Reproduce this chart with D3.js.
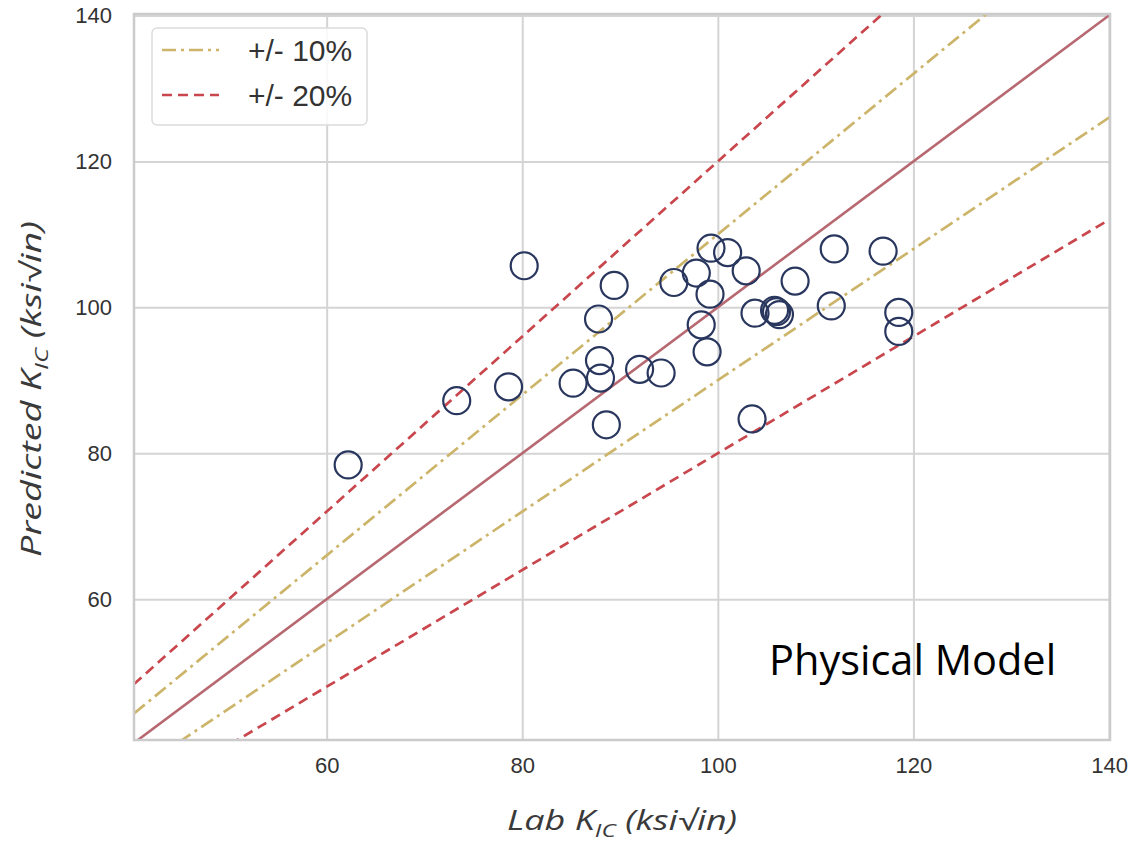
<!DOCTYPE html>
<html>
<head>
<meta charset="utf-8">
<script src="https://cdn.jsdelivr.net/npm/d3@7"></script>
<style>
  body { margin: 0; background: #fff; }
  .tick text { font-family: "Liberation Sans", Arial, sans-serif; fill: #333; }
</style>
</head>
<body>
<div id="chart"></div>
<script>
// Lab vs predicted fracture toughness (ksi*sqrt(in))
const labK = [62.2, 73.3, 78.6, 80.2, 85.2, 87.8, 87.9, 88.0, 88.6, 89.4, 92.0, 94.2, 95.5,
  97.8, 98.3, 98.9, 99.3, 99.2, 101.0, 102.9, 103.8, 103.5, 105.8, 106.0, 106.3, 107.9,
  111.6, 111.9, 116.9, 118.5, 118.5];
const predictedK = [78.4, 87.2, 89.1, 105.7, 89.6, 98.4, 92.7, 90.3, 83.9, 103.0, 91.5, 91.0, 103.4,
  104.7, 97.6, 93.9, 108.1, 101.8, 107.5, 105.0, 99.2, 84.7, 99.6, 99.4, 99.0, 103.6,
  100.2, 108.0, 107.7, 99.3, 96.7];
const xTicks = [60, 80, 100, 120, 140];
const yTicks = [60, 80, 100, 120, 140];
const bandRatios = [1.2, 1.1, 1.0, 0.9, 0.8];
const legendLabels = ['+/- 10%', '+/- 20%'];

const config = {
  width: 1130,
  height: 842,
  plot: { left: 134, right: 1110, top: 14, bottom: 740 },
};

const svg = d3.select('#chart').append('svg')
  .attr('width', config.width)
  .attr('height', config.height);

const x = d3.scaleLinear().domain([40.3, 140.1]).range([config.plot.left, config.plot.right]);
const y = d3.scaleLinear().domain([40.7, 140.2]).range([config.plot.bottom, config.plot.top]);
const plotW = config.plot.right - config.plot.left;
const plotH = config.plot.bottom - config.plot.top;

svg.append('defs').append('clipPath').attr('id', 'plot-clip')
  .append('rect')
  .attr('x', config.plot.left)
  .attr('y', config.plot.top)
  .attr('width', plotW)
  .attr('height', plotH);

// grid via axes
const xAxisG = svg.append('g')
  .attr('transform', `translate(0,${config.plot.bottom})`)
  .call(d3.axisBottom(x).tickValues(xTicks).tickSizeInner(-plotH).tickSizeOuter(0).tickPadding(18));
const yAxisG = svg.append('g')
  .attr('transform', `translate(${config.plot.left},0)`)
  .call(d3.axisLeft(y).tickValues(yTicks).tickSizeInner(-plotW).tickSizeOuter(0).tickPadding(22));

[xAxisG, yAxisG].forEach((g) => {
  g.select('.domain').remove();
  g.selectAll('.tick line').attr('stroke', '#d4d4d4').attr('stroke-width', 2);
  g.selectAll('.tick text').style('font-size', '22px');
});
xAxisG.selectAll('.tick text').attr('dy', '0.7em');

// reference lines: y = r * x
const lineStyle = {
  1.2: { color: '#c9464d', dash: '10,6', width: 2.7 },
  0.8: { color: '#c9464d', dash: '10,6', width: 2.7 },
  1.1: { color: '#ccb56a', dash: '14,5,3,5', width: 2.7 },
  0.9: { color: '#ccb56a', dash: '14,5,3,5', width: 2.7 },
  1.0: { color: '#b76871', dash: null, width: 2.6 },
};
const xDom = x.domain();
const refLine = d3.line().x((d) => x(d[0])).y((d) => y(d[1]));
const linesG = svg.append('g').attr('clip-path', 'url(#plot-clip)');
bandRatios.forEach((r) => {
  const s = lineStyle[r];
  linesG.append('path')
    .attr('d', refLine(xDom.map((v) => [v, v * r])))
    .attr('fill', 'none')
    .attr('stroke', s.color)
    .attr('stroke-width', s.width)
    .attr('stroke-dasharray', s.dash);
});

// points
svg.append('g').selectAll('circle')
  .data(labK.map((v, i) => [v, predictedK[i]]))
  .join('circle')
  .attr('cx', (d) => x(d[0]))
  .attr('cy', (d) => y(d[1]))
  .attr('r', 13.5)
  .attr('fill', 'none')
  .attr('stroke', '#29365e')
  .attr('stroke-width', 2.2);

// frame
svg.append('rect')
  .attr('x', config.plot.left)
  .attr('y', config.plot.top)
  .attr('width', plotW)
  .attr('height', plotH)
  .attr('fill', 'none')
  .attr('stroke', '#cbcbcb')
  .attr('stroke-width', 2.5);

// legend
const legend = svg.append('g').attr('transform', 'translate(152,28)');
legend.append('rect')
  .attr('width', 215)
  .attr('height', 97)
  .attr('rx', 5)
  .attr('fill', 'rgba(255,255,255,0.85)')
  .attr('stroke', '#dcdcdc')
  .attr('stroke-width', 1.5);
[1.1, 1.2].forEach((r, i) => {
  const s = lineStyle[r];
  const row = legend.append('g').attr('transform', `translate(0,${22 + i * 45})`);
  row.append('line')
    .attr('x1', 10).attr('x2', 67)
    .attr('stroke', s.color)
    .attr('stroke-width', s.width)
    .attr('stroke-dasharray', s.dash);
  row.append('text')
    .attr('x', 96)
    .attr('dy', '0.36em')
    .style('font-family', '"Liberation Sans", Arial, sans-serif')
    .style('font-size', '30px')
    .attr('fill', '#333')
    .text(legendLabels[i]);
});

// axis labels, stretched along their length like the source image
function axisLabel(parent, lead, cx, cy, rotate, targetLen) {
  const g = parent.append('g');
  const t = g.append('text')
    .style('font-family', '"Open Sans", sans-serif')
    .style('font-style', 'italic')
    .style('font-size', '28px')
    .attr('fill', '#3a3a3a')
    .attr('text-anchor', 'middle');
  t.append('tspan').text(lead);
  t.append('tspan').attr('dy', 7).style('font-size', '19px').text('IC');
  t.append('tspan').attr('dy', -7).text(' (ksi√in)');
  const k = targetLen / t.node().getComputedTextLength();
  g.attr('transform', `translate(${cx},${cy}) rotate(${rotate}) scale(${k},1)`);
}
axisLabel(svg, 'Lab K', 622, 830, 0, 230);
axisLabel(svg, 'Predicted K', 41, 389, -90, 336);

// annotation
svg.append('text')
  .attr('x', 769)
  .attr('y', 675)
  .style('font-family', '"Open Sans", sans-serif')
  .style('font-size', '41.5px')
  .attr('fill', '#000')
  .text('Physical Model');
</script>
</body>
</html>
